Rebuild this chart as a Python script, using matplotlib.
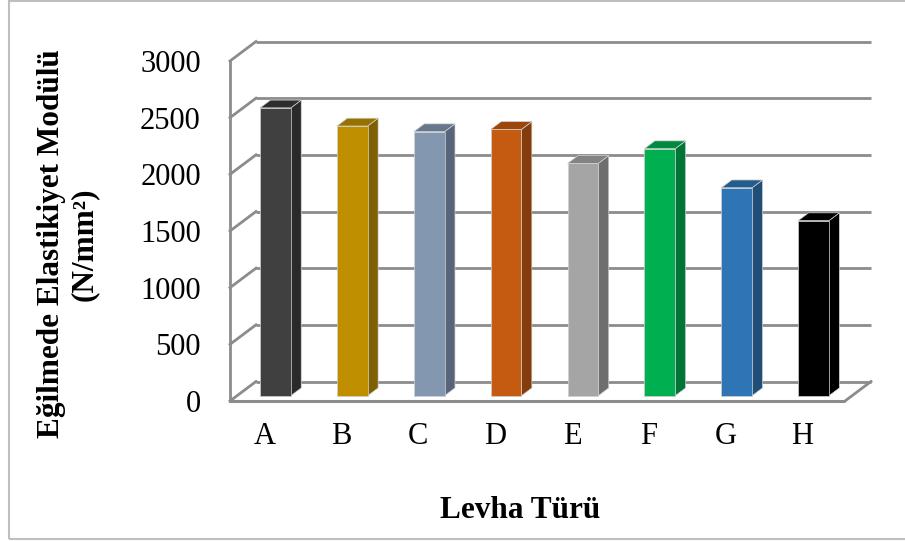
#!/usr/bin/env python3
'''
Flexural modulus of elasticity per board type, drawn as an
oblique 3D-style column chart (back wall, left wall, floor, prism bars).
'''

import matplotlib
matplotlib.use("Agg")
import matplotlib.pyplot as plt
from matplotlib.patches import Polygon, Rectangle

plt.rcParams['font.family'] = ['Liberation Serif', 'DejaVu Serif']

categories = ['A', 'B', 'C', 'D', 'E', 'F', 'G', 'H']
values = [2540, 2380, 2330, 2350, 2050, 2180, 1835, 1545]
yticks = [0, 500, 1000, 1500, 2000, 2500, 3000]

front_colors = ['#404040', '#bf8f00', '#8497b0', '#c55a11',
                '#a5a5a5', '#00b050', '#2e75b6', '#000000']
side_colors = ['#2a2a2a', '#7f6000', '#56657a', '#843c0c',
               '#6e6e6e', '#007535', '#1f4e79', '#000000']
top_colors = ['#2e2e2e', '#987200', '#67778d', '#9c460e',
              '#838383', '#008a3f', '#245c90', '#000000']

W, H = 905, 541
# pixel geometry of the front plane
px_left, px_right, px_top, px_bottom = 230, 871, 40, 401
ux = 615 / 8            # pixels per category on the front plane
uy = 340 / 3000         # pixels per unit of modulus
DX = 26 / ux            # depth of the walls, data units
DY = 19.5 / uy
f0, bd = 0.27, 0.40     # bar front position and bar depth, as wall-depth fractions
bw = 0.40               # bar width
grid_c = '#8c8c8c'

fig = plt.figure(figsize=(W / 100, H / 100), dpi=100)
ax = fig.add_axes([px_left / W, (H - px_bottom) / H,
                   (px_right - px_left) / W, (px_bottom - px_top) / H])
ax.set_xlim(-0.5, -0.5 + (px_right - px_left) / ux)
ax.set_ylim(0, (px_bottom - px_top) / uy)
for s in ax.spines.values():
    s.set_visible(False)

n = len(categories)
x_l, x_r = -0.5, n - 0.5

# back wall gridlines and left wall
for v in yticks:
    ax.plot([x_l + DX, x_r + DX], [v + DY, v + DY], color=grid_c, lw=2,
            solid_capstyle='butt', zorder=1, clip_on=False)
    ax.plot([x_l, x_l + DX], [v, v + DY], color=grid_c, lw=2,
            zorder=1, clip_on=False)
ax.plot([x_l, x_l], [0, yticks[-1]], color=grid_c, lw=2, zorder=1, clip_on=False)

# floor
ax.plot([x_l, x_r], [0, 0], color=grid_c, lw=2.2, zorder=1,
        solid_capstyle='butt', clip_on=False)
ax.plot([x_r, x_r + DX], [0, DY], color=grid_c, lw=2, zorder=1, clip_on=False)

# bars: side, top, then front face
for i, v in enumerate(values):
    x0 = i + f0 * DX - bw / 2
    y0 = f0 * DY
    ddx, ddy = bd * DX, bd * DY
    side = Polygon([(x0 + bw, y0), (x0 + bw + ddx, y0 + ddy),
                    (x0 + bw + ddx, y0 + v + ddy), (x0 + bw, y0 + v)],
                   closed=True, facecolor=side_colors[i],
                   edgecolor='#d0d0d0', lw=0.5, zorder=3)
    top = Polygon([(x0, y0 + v), (x0 + bw, y0 + v),
                   (x0 + bw + ddx, y0 + v + ddy), (x0 + ddx, y0 + v + ddy)],
                  closed=True, facecolor=top_colors[i],
                  edgecolor='#d0d0d0', lw=0.5, zorder=3)
    ax.add_patch(side)
    ax.add_patch(top)
    ax.bar(x0, v, width=bw, bottom=y0, align='edge', color=front_colors[i],
           edgecolor='#d0d0d0', lw=0.5, zorder=4)

ax.set_yticks(yticks)
ax.set_yticklabels([str(t) for t in yticks])
# category labels sit a little left of the slot centres
ax.set_xticks([i - 4 / ux for i in range(n)])
ax.set_xticklabels(categories)
ax.tick_params(axis='y', length=0, pad=21, labelsize=22)
ax.tick_params(axis='x', length=0, pad=15, labelsize=22)

fig.text(520 / W, 1 - 511 / H, 'Levha Türü', fontsize=22.5, fontweight='bold',
         ha='center', va='center')
fig.text(68 / W, 1 - 244 / H, 'Eğilmede Elastikiyet Modülü\n(N/mm²)',
         fontsize=22.5, fontweight='bold', rotation=90,
         ha='center', va='center', multialignment='center')

# chart frame
fig.patches.append(Rectangle((9 / W, 2 / H), 1.2, 1 - 3 / H,
                             transform=fig.transFigure, fill=False,
                             edgecolor='#bfbfbf', lw=1.5))

fig.savefig('out.png', dpi=100)
